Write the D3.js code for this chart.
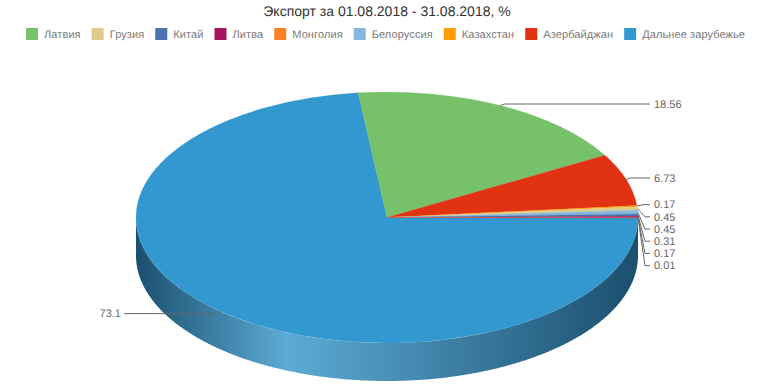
<!DOCTYPE html>
<html>
<head>
<meta charset="utf-8">
<script src="https://cdn.jsdelivr.net/npm/d3@7"></script>
<style>
html, body { margin: 0; padding: 0; background: #fff; }
text { font-family: "Liberation Sans", Arial, sans-serif; text-rendering: geometricPrecision; }
</style>
</head>
<body>
<div id="chart"></div>
<script>
// Chart data, legend order
var categories = ["Латвия", "Грузия", "Китай", "Литва", "Монголия", "Белоруссия", "Казахстан", "Азербайджан", "Дальнее зарубежье"];
var values = [18.56, 0.45, 0.31, 0.17, 0.01, 0.45, 0.17, 6.73, 73.1];
// Order of the slices going clockwise round the pie
var sliceOrder = ["Дальнее зарубежье", "Латвия", "Азербайджан", "Казахстан", "Грузия", "Белоруссия", "Китай", "Литва", "Монголия"];
var palette = ["#77c16a", "#dfcc8c", "#4c72b0", "#a6125c", "#ff7f24", "#85b8e0", "#ff9c00", "#e23214", "#3298cf"];

var width = 774, height = 387;
var cx = 387, cy = 217.5, rx = 251, ry = 125.5, depth = 38;

var svg = d3.select("#chart").append("svg")
    .attr("width", width)
    .attr("height", height)
    .style("display", "block");

var color = d3.scaleOrdinal().domain(categories).range(palette);

// Title
svg.append("text")
    .attr("x", cx)
    .attr("y", 16)
    .attr("text-anchor", "middle")
    .style("font-size", "14px")
    .style("fill", "#333333")
    .text("Экспорт за 01.08.2018 - 31.08.2018, %");

// Legend, each item placed after the width of the one before
var legendX = 26;
categories.forEach(function(name) {
    var item = svg.append("g").attr("transform", "translate(" + legendX + ",28)");
    item.append("rect")
        .attr("width", 12)
        .attr("height", 12)
        .style("fill", color(name));
    var label = item.append("text")
        .attr("x", 18)
        .attr("y", 10)
        .style("font-size", "11px")
        .style("letter-spacing", "0.1px")
        .style("fill", "#777777")
        .text(name);
    legendX += 18 + label.node().getComputedTextLength() + 11;
});

// Slices, starting at the east side of the pie
var rows = sliceOrder.map(function(name) {
    return { name: name, value: values[categories.indexOf(name)] };
});
var startAngle = Math.PI / 2 + 0.002;
var pie = d3.pie()
    .sort(null)
    .value(function(d) { return d.value; })
    .startAngle(startAngle)
    .endAngle(startAngle + 2 * Math.PI);
var arcs = pie(rows);

// Unit circle to flattened ellipse
var x = d3.scaleLinear().domain([-1, 1]).range([cx - rx, cx + rx]);
var y = d3.scaleLinear().domain([-1, 1]).range([cy - ry, cy + ry]);
function px(a) { return x(Math.sin(a)); }
function py(a) { return y(-Math.cos(a)); }

// Side wall: only the front half can be seen
var defs = svg.append("defs");
var wallGrad = defs.append("linearGradient")
    .attr("id", "wall")
    .attr("gradientUnits", "userSpaceOnUse")
    .attr("x1", cx - rx).attr("x2", cx + rx)
    .attr("y1", 0).attr("y2", 0);
wallGrad.append("stop").attr("offset", "0").attr("stop-color", "#1b4f6e");
wallGrad.append("stop").attr("offset", "0.3").attr("stop-color", "#5cabd5");
wallGrad.append("stop").attr("offset", "1").attr("stop-color", "#1b4f6e");

var front = d3.range(Math.PI / 2, 3 * Math.PI / 2 + 0.001, 0.01);
var wallLine = d3.line().x(function(d) { return d[0]; }).y(function(d) { return d[1]; });
var wallPts = front.map(function(a) { return [px(a), py(a)]; })
    .concat(front.slice().reverse().map(function(a) { return [px(a), py(a) + depth]; }));
svg.append("path")
    .attr("d", wallLine(wallPts) + "Z")
    .style("fill", "url(#wall)");

// Top face
var arc = d3.arc().innerRadius(0).outerRadius(rx);
svg.append("g")
    .attr("transform", "translate(" + cx + "," + cy + ") scale(1," + (ry / rx) + ")")
    .selectAll("path")
    .data(arcs)
    .enter().append("path")
    .attr("d", arc)
    .style("fill", function(d) { return color(d.data.name); })
    .style("stroke", function(d) { return color(d.data.name); })
    .style("stroke-width", 0.3);

// Data labels: right side pushed down so they do not overlap
var labels = arcs.map(function(d) {
    var mid = (d.startAngle + d.endAngle) / 2;
    var ax = px(mid), ay = py(mid);
    var right = Math.sin(mid) > 0;
    return { value: d.data.value, ax: ax, ay: ay, right: right, ly: ay + (ay < cy ? -1.5 : 2.5) };
});
var rightLabels = labels.filter(function(d) { return d.right; });
rightLabels.sort(function(a, b) { return a.ay - b.ay; });
rightLabels.forEach(function(d, i) {
    if (i > 0) d.ly = Math.max(d.ly, rightLabels[i - 1].ly + 12.2);
});

var labelG = svg.append("g");
labels.forEach(function(d) {
    var endX = d.right ? 650 : 124;
    var elbowX = d.ax + (d.right ? 4 : -3);
    if (d.right && d.ay > 200) elbowX = Math.max(elbowX, d.ly > 215 ? 645 : 643);
    labelG.append("path")
        .attr("d", "M" + endX + "," + d.ly + "L" + elbowX + "," + d.ly + "L" + d.ax + "," + d.ay)
        .style("fill", "none")
        .style("stroke", "#666666")
        .style("stroke-width", 1);
    labelG.append("text")
        .attr("x", d.right ? 654 : 121)
        .attr("y", d.ly)
        .attr("dy", "0.35em")
        .attr("text-anchor", d.right ? "start" : "end")
        .style("font-size", "11px")
        .style("fill", "#666666")
        .text(d.value);
});
</script>
</body>
</html>
